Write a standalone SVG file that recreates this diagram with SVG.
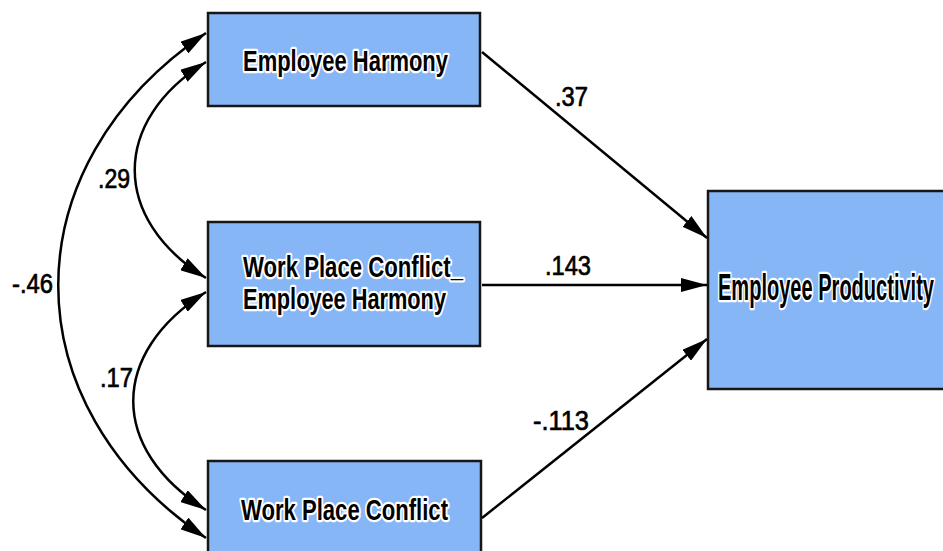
<svg xmlns="http://www.w3.org/2000/svg" width="943" height="551" viewBox="0 0 943 551">
<defs>
<style>
.box{fill:#87b6f6;stroke:#161616;stroke-width:2.5}
.nt{font-family:"Liberation Sans",Arial,sans-serif;font-weight:bold;fill:#000;stroke:#fff;stroke-width:4.5;stroke-linejoin:round;paint-order:stroke}
.lbl{font-family:"Liberation Sans",Arial,sans-serif;font-size:28px;fill:#000;stroke:#000;stroke-width:0.7}
.ln{fill:none;stroke:#000;stroke-width:2.5}
</style>
<marker id="ah" markerUnits="userSpaceOnUse" markerWidth="26" markerHeight="14" viewBox="0 0 26 14" refX="26" refY="7" orient="auto-start-reverse">
<path d="M0,0 L26,7 L0,14 z" fill="#000"/>
</marker>
</defs>
<rect width="943" height="551" fill="#fff"/>
<g id="nodes">
<g id="employee-harmony">
<rect class="box" x="208" y="13" width="272" height="93"/>
<text class="nt" x="243" y="71" font-size="29" textLength="205" lengthAdjust="spacingAndGlyphs">Employee Harmony</text>
</g>
<g id="wpc-employee-harmony">
<rect class="box" x="208" y="222" width="272" height="124"/>
<text class="nt" x="243" y="277" font-size="29" textLength="220" lengthAdjust="spacingAndGlyphs">Work Place Conflict_</text>
<text class="nt" x="243" y="309" font-size="29" textLength="203" lengthAdjust="spacingAndGlyphs">Employee Harmony</text>
</g>
<g id="work-place-conflict">
<rect class="box" x="208" y="461" width="273" height="110"/>
<text class="nt" x="241" y="520" font-size="29" textLength="207" lengthAdjust="spacingAndGlyphs">Work Place Conflict</text>
</g>
<g id="employee-productivity">
<rect class="box" x="708" y="191" width="260" height="198"/>
<text class="nt" x="718" y="300" font-size="36" textLength="216" lengthAdjust="spacingAndGlyphs">Employee Productivity</text>
</g>
</g>
<g id="connectors">
<path class="ln" d="M482,52 L707,238" marker-end="url(#ah)"/>
<path class="ln" d="M482,285 L707,285" marker-end="url(#ah)"/>
<path class="ln" d="M482,518 L707,339" marker-end="url(#ah)"/>
<path class="ln" d="M206,33 C 9,166 9,405 206,538" marker-start="url(#ah)" marker-end="url(#ah)"/>
<path class="ln" d="M206,62 C 111,121 111,219 206,278" marker-start="url(#ah)" marker-end="url(#ah)"/>
<path class="ln" d="M206,292 C 109,353 109,449 206,510" marker-start="url(#ah)" marker-end="url(#ah)"/>
</g>
<g id="labels">
<text class="lbl" x="555" y="106" textLength="33" lengthAdjust="spacingAndGlyphs">.37</text>
<text class="lbl" x="545" y="275" textLength="46" lengthAdjust="spacingAndGlyphs">.143</text>
<text class="lbl" x="533" y="430" textLength="56" lengthAdjust="spacingAndGlyphs">-.113</text>
<text class="lbl" x="98" y="188" textLength="32" lengthAdjust="spacingAndGlyphs">.29</text>
<text class="lbl" x="12" y="293" textLength="41" lengthAdjust="spacingAndGlyphs">-.46</text>
<text class="lbl" x="100" y="387" textLength="33" lengthAdjust="spacingAndGlyphs">.17</text>
</g>
</svg>
